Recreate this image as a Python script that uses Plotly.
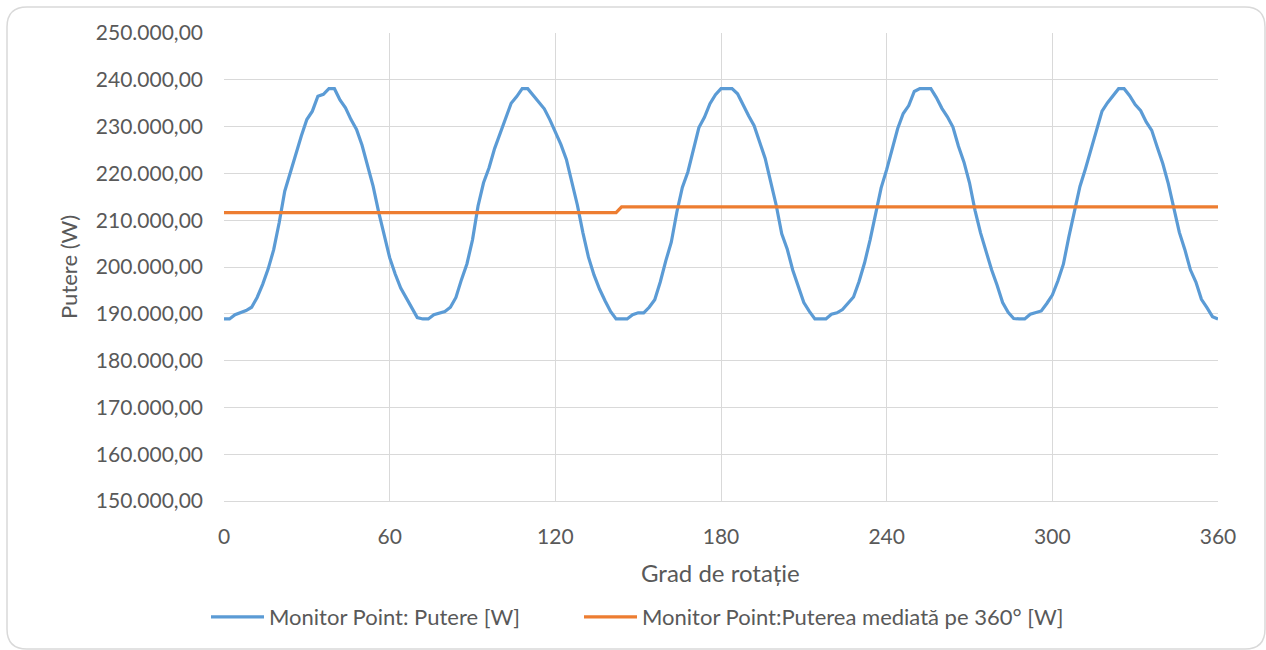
import plotly.graph_objects as go

# ---- data ----
grade = list(range(0, 361, 2))

putere = [
    188900, 188900, 189800, 190200, 190700, 191400, 193500, 196300, 199600, 203700,   # 0-18
    209500, 216200, 220200, 223800, 228000, 231500, 233300, 236500, 236900, 238100,   # 20-38
    238100, 235700, 234000, 231500, 229400, 226000, 221500, 217300, 211800, 206800,   # 40-58
    202000, 198500, 195500, 193400, 191200, 189200, 188900, 188900, 189800, 190200,   # 60-78
    190500, 191400, 193500, 197300, 200700, 205800, 213000, 218000, 221200, 225300,   # 80-98
    228500, 231700, 235000, 236400, 238100, 238100, 236700, 235200, 233800, 231500,   # 100-118
    229000, 226200, 223000, 218400, 213200, 207300, 202100, 198300, 195300, 192800,   # 120-138
    190500, 188900, 188900, 188900, 189800, 190200, 190200, 191400, 193000, 196800,   # 140-158
    201300, 205300, 211700, 217000, 220300, 224900, 229800, 232000, 234900, 236800,   # 160-178
    238100, 238100, 238100, 237000, 234500, 232300, 230200, 226800, 223200, 218200,   # 180-198
    213200, 207100, 203800, 199300, 196000, 192400, 190500, 188900, 188900, 188900,   # 200-218
    189900, 190200, 190900, 192200, 193600, 196900, 200900, 205800, 211500, 216900,   # 220-238
    220800, 225400, 229600, 232800, 234500, 237500, 238100, 238100, 238100, 236200,   # 240-258
    233900, 232100, 229900, 225800, 222400, 218000, 212100, 207300, 203100, 199400,   # 260-278
    196100, 192400, 190300, 189000, 188900, 188900, 189900, 190200, 190600, 192200,   # 280-298
    194000, 197000, 200600, 206500, 212100, 217200, 221000, 225200, 229000, 233300,   # 300-318
    235100, 236700, 238100, 238100, 236600, 234700, 233400, 231000, 229200, 225600,   # 320-338
    222100, 217800, 212200, 207400, 203700, 199400, 196800, 193100, 191300, 189400,   # 340-358
    188900,                                                                            # 360
]

putere_medie = [211600] * 72 + [212850] * 109   # 0-142 then 144-360

x_ticks = [0, 60, 120, 180, 240, 300, 360]
y_ticks = list(range(150000, 250001, 10000))

serie1 = "Monitor Point: Putere [W]"
serie2 = "Monitor Point:Puterea mediată pe 360° [W]"

# ---- figure ----
FONT = "Lato"
TXT = "#595959"
GRID = "#d9d9d9"

fig = go.Figure()
fig.add_trace(go.Scatter(x=grade, y=putere, mode="lines", name=serie1,
                         line=dict(color="#5B9BD5", width=3.2), legend="legend"))
fig.add_trace(go.Scatter(x=grade, y=putere_medie, mode="lines", name=serie2,
                         line=dict(color="#ED7D31", width=3.2), legend="legend2"))

W, H = 1266, 650
L, R, T, B = 224, 1218, 33, 501
pw, ph = R - L, B - T

def px(xp):
    return (xp - L) / pw

def py(yp):
    return (B - yp) / ph

# rounded outer border
x0, x1, y0, y1, rad = 7, 1265, 7, 649, 20
path = (
    f"M {px(x0 + rad)},{py(y0)} L {px(x1 - rad)},{py(y0)} "
    f"Q {px(x1)},{py(y0)} {px(x1)},{py(y0 + rad)} "
    f"L {px(x1)},{py(y1 - rad)} Q {px(x1)},{py(y1)} {px(x1 - rad)},{py(y1)} "
    f"L {px(x0 + rad)},{py(y1)} Q {px(x0)},{py(y1)} {px(x0)},{py(y1 - rad)} "
    f"L {px(x0)},{py(y0 + rad)} Q {px(x0)},{py(y0)} {px(x0 + rad)},{py(y0)} Z"
)

leg_common = dict(orientation="h", yanchor="middle", y=py(617), xanchor="left",
                  font=dict(size=22, color=TXT, family=FONT), bgcolor="rgba(0,0,0,0)",
                  borderwidth=0, itemwidth=53)

fig.update_layout(
    width=W, height=H,
    margin=dict(l=L, r=W - R, t=T, b=H - B),
    paper_bgcolor="white", plot_bgcolor="white",
    separators=",.",
    font=dict(family=FONT, color=TXT, size=21),
    showlegend=True,
    legend=dict(x=px(206), **leg_common),
    legend2=dict(x=px(579), **leg_common),
    shapes=[dict(type="path", xref="paper", yref="paper", path=path,
                 line=dict(color="#d9d9d9", width=1.5), layer="below")],
    annotations=[
        dict(text="Grad de rotație", xref="paper", yref="paper", x=px(720), y=py(572),
             xanchor="center", yanchor="middle", showarrow=False,
             font=dict(size=24, color=TXT, family=FONT)),
        dict(text="Putere (W)", xref="paper", yref="paper", x=px(68), y=py(267),
             xanchor="center", yanchor="middle", showarrow=False, textangle=-90,
             font=dict(size=22, color=TXT, family=FONT)),
    ],
)

fig.update_xaxes(range=[0, 360], tickvals=x_ticks, ticktext=[str(v) for v in x_ticks],
                 showgrid=True, gridcolor=GRID, gridwidth=1.3,
                 showline=True, linecolor=GRID, linewidth=1.3,
                 zeroline=False, ticks="", ticklabelstandoff=17,
                 tickfont=dict(size=21, color=TXT, family=FONT))
fig.update_yaxes(range=[150000, 250000], tickvals=y_ticks, tickformat=",.2f",
                 showgrid=True, gridcolor=GRID, gridwidth=1.3,
                 showline=False, zeroline=False, ticks="", ticklabelstandoff=20,
                 tickfont=dict(size=21, color=TXT, family=FONT))

fig.write_html("out.html")
